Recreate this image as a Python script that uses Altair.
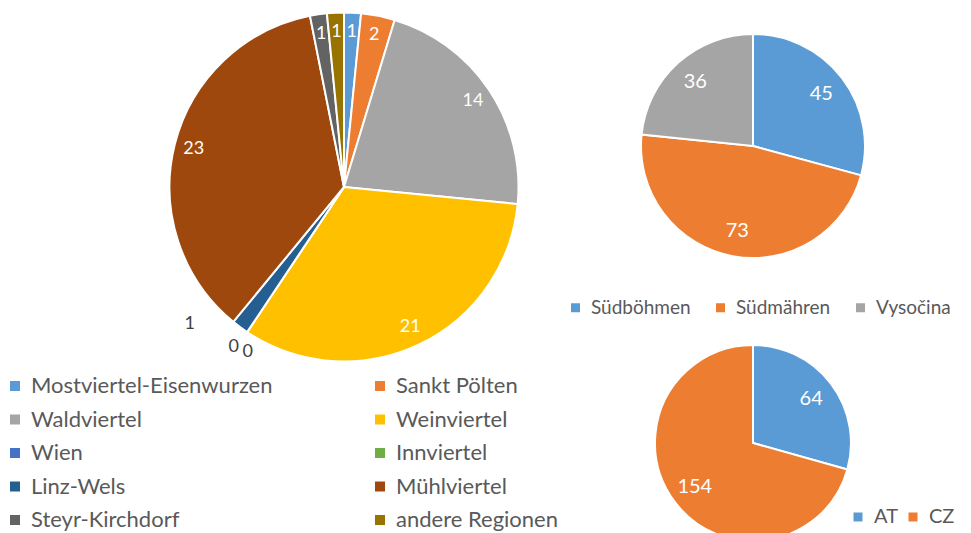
import altair as alt
import pandas as pd

# ---- data ----
regions = ["Mostviertel-Eisenwurzen", "Sankt Pölten", "Waldviertel", "Weinviertel", "Wien",
           "Innviertel", "Linz-Wels", "Mühlviertel", "Steyr-Kirchdorf", "andere Regionen"]
region_values = [1, 2, 14, 21, 0, 0, 1, 23, 1, 1]
region_colors = ["#5B9BD5", "#ED7D31", "#A5A5A5", "#FFC000", "#4472C4",
                 "#70AD47", "#255E91", "#9E480E", "#636363", "#997300"]

cz_regions = ["Südböhmen", "Südmähren", "Vysočina"]
cz_values = [45, 73, 36]
cz_colors = ["#5B9BD5", "#ED7D31", "#A5A5A5"]

countries = ["AT", "CZ"]
country_values = [64, 154]
country_colors = ["#5B9BD5", "#ED7D31"]

FONT = "Lato"
LEG_COLOR = "#595959"
OFF = 8  # page margin


def frame(cats, vals):
    return pd.DataFrame({"cat": cats, "value": vals, "idx": list(range(len(cats)))})


def legend(x, y, columns, col_pad, row_pad, size, sym, lab_off):
    return alt.Legend(title=None, orient="none", legendX=x - OFF, legendY=y - OFF,
                      direction="horizontal",
                      columns=columns, columnPadding=col_pad, rowPadding=row_pad,
                      symbolType="square", symbolSize=sym, symbolStrokeWidth=0,
                      labelFont=FONT, labelFontSize=size, labelColor=LEG_COLOR,
                      labelOffset=lab_off, labelLimit=400)


def pie(df, cats, colors, cx, cy, r, label_r, label_size, leg, outside=()):
    cx -= OFF
    cy -= OFF
    base = alt.Chart(df).encode(
        theta=alt.Theta("value:Q", stack=True),
        order=alt.Order("idx:Q", sort="ascending"),
    )
    arc = base.mark_arc(radius=r, stroke="white", strokeWidth=2).encode(
        x=alt.value(cx), y=alt.value(cy),
        color=alt.Color("cat:N", scale=alt.Scale(domain=cats, range=colors), legend=leg),
    )
    out_list = "[" + ",".join("'" + o[0] + "'" for o in outside) + "]"
    inside = base.transform_calculate(
        label=f"indexof({out_list}, datum.cat) >= 0 ? '' : toString(datum.value)"
    ).mark_text(radius=label_r, font=FONT, fontSize=label_size, color="white").encode(
        x=alt.value(cx), y=alt.value(cy), text="label:N", detail="cat:N"
    )
    layers = [arc, inside]
    for name, dx, dy in outside:
        layers.append(
            base.transform_calculate(
                label=f"datum.cat == '{name}' ? toString(datum.value) : ''"
            ).mark_text(radius=195, dx=dx, dy=dy, font=FONT, fontSize=label_size,
                        color="#404040").encode(
                x=alt.value(cx), y=alt.value(cy), text="label:N", detail="cat:N"
            )
        )
    return alt.layer(*layers)


big = pie(frame(regions, region_values), regions, region_colors,
          344, 187, 174.5, 155, 18,
          legend(4, 375, 2, 96, 11.5, 22, 100, 5),
          outside=[("Wien", -2, -2), ("Innviertel", 12, 3), ("Linz-Wels", -38, -20)])

cz = pie(frame(cz_regions, cz_values), cz_regions, cz_colors,
         753, 146, 112, 86, 20,
         legend(566, 298, 3, 20, 0, 19, 81, 6))

tot = pie(frame(countries, country_values), countries, country_colors,
          753, 443, 98, 73, 20,
          legend(848, 507, 2, 5, 0, 20, 81, 6))

chart = alt.layer(big, cz, tot).resolve_scale(
    theta="independent", color="independent"
).properties(
    width=955, height=525, padding=0, autosize=alt.AutoSizeParams(type="none")
).configure_view(strokeWidth=0)

chart.save("out.html", embed_options={"renderer": "svg", "actions": False})
